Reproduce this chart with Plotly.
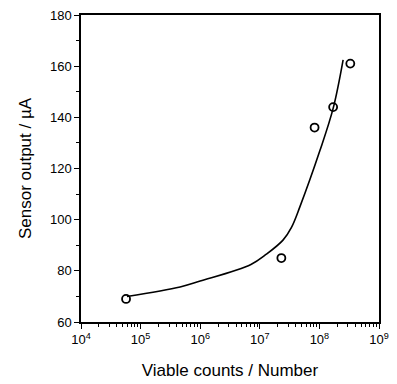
import plotly.graph_objects as go

# Measured points
viable_counts = [5.7e4, 2.3e7, 8.3e7, 1.7e8, 3.3e8]
sensor_output = [69, 85, 136, 144, 161]

# Fitted curve
curve_counts = [5.9e4, 4.6e5, 1.0e6, 7.1e6, 1.29e7, 2.45e7, 3.4e7, 4.7e7, 1.02e8, 1.7e8, 2.5e8]
curve_output = [70, 73.7, 76, 82.5, 86.5, 92, 97, 105, 127, 143.5, 162.5]

x_tick_vals = [1e4, 1e5, 1e6, 1e7, 1e8, 1e9]
x_tick_text = ["10<sup>4</sup>", "10<sup>5</sup>", "10<sup>6</sup>", "10<sup>7</sup>", "10<sup>8</sup>", "10<sup>9</sup>"]
y_tick_vals = [60, 80, 100, 120, 140, 160, 180]

fig = go.Figure()
fig.add_trace(go.Scatter(x=curve_counts, y=curve_output, mode="lines",
                         line=dict(color="black", width=1.6, shape="spline", smoothing=1.0),
                         hoverinfo="skip", showlegend=False))
fig.add_trace(go.Scatter(x=viable_counts, y=sensor_output, mode="markers",
                         marker=dict(symbol="circle-open", size=8, color="black", line=dict(width=1.8)),
                         showlegend=False))

font = "Liberation Sans, Arial, sans-serif"
# page body has an 8px margin, so the figure starts at (8, 8)
fig.update_layout(
    width=389, height=376,
    margin=dict(l=73, r=18, t=7, b=62),
    paper_bgcolor="white", plot_bgcolor="white",
    font=dict(family=font, color="black", size=13),
    xaxis=dict(type="log", range=[4, 9], tickvals=x_tick_vals, ticktext=x_tick_text,
               showline=True, linecolor="black", linewidth=1.5, mirror=True,
               ticks="outside", ticklen=5, tickwidth=1.2, tickcolor="black",
               minor=dict(ticks="outside", ticklen=3, tickcolor="black", dtick="D1", showgrid=False),
               showgrid=False, zeroline=False, automargin=False, ticklabeloverflow="allow",
               title=dict(text="Viable counts / Number", font=dict(size=17, family=font), standoff=18),
               tickfont=dict(size=13)),
    yaxis=dict(range=[60, 180], tickvals=y_tick_vals,
               showline=True, linecolor="black", linewidth=1.5, mirror=True,
               ticks="outside", ticklen=5, tickwidth=1.2, tickcolor="black",
               minor=dict(ticks="outside", ticklen=3, tickcolor="black", dtick=10, showgrid=False),
               showgrid=False, zeroline=False, automargin=False, ticklabeloverflow="allow",
               title=dict(text="Sensor output / µA", font=dict(size=17, family=font), standoff=14),
               tickfont=dict(size=13)),
)
fig.write_html("out.html")
